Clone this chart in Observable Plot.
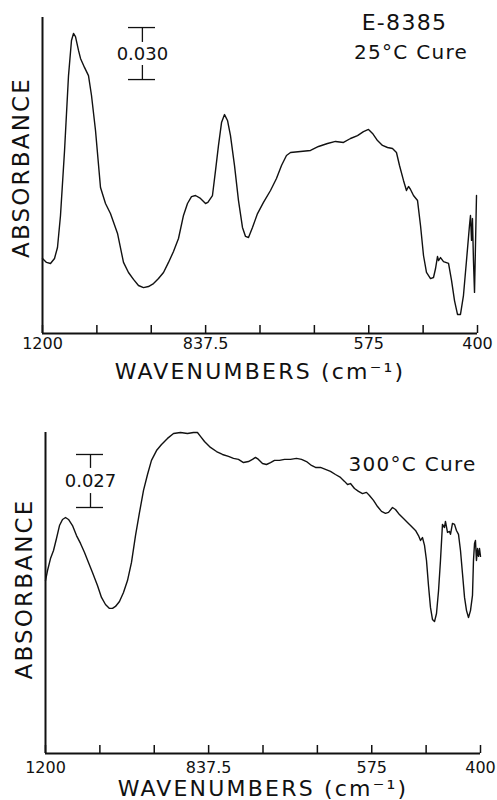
<!DOCTYPE html>
<html>
<head>
<meta charset="utf-8">
<script src="https://cdn.jsdelivr.net/npm/d3@7"></script>
<script src="https://cdn.jsdelivr.net/npm/@observablehq/plot@0.6"></script>
<style>
  body { margin: 0; background: #fff; }
  svg { display: block; }
</style>
</head>
<body>
<div id="chart"></div>
<script>
// Wavenumber divisions of the chart paper (piecewise-linear scale), and labelled ticks
const xTicks = [1200, 1079.17, 958.33, 837.5, 750, 662.5, 575, 487.5, 400];
const xTickLabels = [1200, 837.5, 575, 400];

// Panel 1: E-8385, 25°C cure
const wn25 = [1200,1191.1,1182.2,1173.3,1166.7,1160,1151,1142.2,1135.6,1131.1,
  1126.7,1120,1115.5,1106.7,1097.8,1091.1,1082.2,1071.1,1060,1049,
  1033.3,1020,1008.9,997.8,986.7,975.6,964.5,953.3,942.2,931.1,
  920,908.9,897.8,886.7,877.8,868.9,860,848.9,837.7,833.9,
  826.5,821.6,816.8,811.9,807.1,802.3,797.5,791.0,784.6,778.2,
  773.3,768.5,762.1,754.0,744.4,733.1,723.5,715.4,707.4,700.9,
  684.8,668.7,655.8,641.4,628.5,615.6,604.4,593.1,583.5,575.4,
  568.9,560.9,552.9,544.8,536.8,530.4,525.5,519.1,514.3,511.0,
  507.8,503.0,496.5,491.7,486.9,482.1,475.6,470.8,467.5,464.4,
  462.7,459.5,454.7,446.6,441.8,437.0,432.2,427.4,422.6,417.7,
  412.9,411.3,409.6,408.1,406.5,404.8,401.6];
const abs25 = [.0433,.0410,.0404,.0433,.0496,.0681,.1056,.1488,.1690,.1731,
  .1713,.1633,.1587,.1535,.1488,.1373,.1171,.0842,.0750,.0692,
  .0577,.0410,.0352,.0312,.0277,.0265,.0271,.0288,.0317,.0352,
  .0410,.0473,.0548,.0681,.0750,.0790,.0796,.0779,.0750,.0756,
  .0796,.0940,.1085,.1217,.1263,.1229,.1142,.0969,.0767,.0612,
  .0560,.0554,.0612,.0692,.0756,.0825,.0894,.0969,.1027,.1044,
  .1050,.1056,.1079,.1096,.1108,.1102,.1125,.1142,.1165,.1177,
  .1154,.1113,.1085,.1073,.1067,.1044,.0969,.0883,.0825,.0848,
  .0831,.0796,.0767,.0623,.0450,.0352,.0317,.0323,.0375,.0444,
  .0421,.0438,.0415,.0404,.0306,.0190,.0110,.0110,.0219,.0421,
  .0623,.0681,.0537,.0663,.0421,.0237,.0796];

// Panel 2: 300°C cure
const wn300 = [1200,1195.5,1188.9,1182.2,1175.6,1168.9,1162.2,1155.5,1148.9,1140.0,
  1131.1,1122.2,1113.3,1104.5,1095.6,1084.5,1075.6,1066.7,1057.8,1051.1,
  1044.5,1035.6,1026.7,1017.8,1008.9,1000,991.1,982.2,973.3,964.5,
  953.3,942.2,928.9,915.5,900,884.5,871.1,862.3,855.6,846.7,
  834.5,824.8,815.2,805.5,797.5,789.5,781.4,773.4,766.9,762.1,
  757.3,750.8,744.4,737.9,731.5,723.5,715.4,705.8,696.1,688.0,
  680.0,672.0,665.5,657.5,649.5,641.4,633.4,625.3,618.8,614.0,
  609.2,602.8,596.3,589.9,583.5,578.7,572.2,565.7,559.3,552.9,
  548.0,541.6,536.8,530.4,523.9,517.5,511.0,504.6,499.8,496.5,
  493.4,490.1,486.9,483.7,480.5,477.3,474.0,470.8,467.5,464.4,
  461.2,458.0,456.4,453.1,449.9,448.3,445.1,441.8,438.7,435.4,
  432.2,429.0,425.7,422.5,419.3,416.1,412.9,411.3,409.6,408.1,
  406.5,404.8,403.2,401.6,400];
const abs300 = [.0881,.0932,.0993,.1034,.1095,.1161,.1192,.1202,.1192,.1161,
  .1110,.1070,.1024,.0973,.0922,.0856,.0795,.0759,.0739,.0739,
  .0749,.0774,.0820,.0881,.0973,.1110,.1228,.1340,.1421,.1493,
  .1543,.1574,.1605,.1630,.1635,.1630,.1635,.1635,.1615,.1589,
  .1559,.1538,.1523,.1513,.1503,.1498,.1482,.1487,.1498,.1508,
  .1498,.1477,.1472,.1482,.1493,.1493,.1498,.1498,.1503,.1498,
  .1487,.1467,.1457,.1457,.1447,.1437,.1421,.1406,.1386,.1370,
  .1375,.1350,.1335,.1324,.1330,.1314,.1289,.1258,.1233,.1223,
  .1228,.1253,.1243,.1217,.1197,.1177,.1156,.1136,.1110,.1085,
  .1100,.1060,.0983,.0856,.0744,.0683,.0672,.0713,.0830,.0983,
  .1167,.1151,.1182,.1126,.1131,.1116,.1172,.1167,.1136,.1116,
  .1034,.0917,.0795,.0728,.0693,.0728,.0805,.0983,.1070,.1085,
  .0983,.1044,.1004,.1044,.1004];

// Absorbance scale bars
const bar25 = {x: 978, x1: 1008.9, x2: 948.9, top: 0.1765, bottom: 0.1465, gapTop: 0.1679, gapBottom: 0.1546, textY: 0.1613, label: "0.030"};
const bar300 = {x: 1100, x1: 1131.1, x2: 1071.1, top: 0.1523, bottom: 0.1253, gapTop: 0.1452, gapBottom: 0.1324, textY: 0.1386, label: "0.027"};

// Annotations
const notes25 = [
  {x: 517.5, y: 0.1794, text: "E-8385", size: 22},
  {x: 507, y: 0.1621, text: "25°C Cure", size: 20}
];
const notes300 = [
  {x: 509.4, y: 0.1472, text: "300°C Cure", size: 20}
];

const xTitle = "WAVENUMBERS (cm⁻¹)";
const yTitle = "ABSORBANCE";

function panel({wn, abs, yMax, height, marginTop, marginBottom, marginLeft, marginRight, bar, notes, tickPad, titleDy, yTitleDy}) {
  const data = wn.map((w, i) => ({wn: w, a: abs[i]}));
  const svg = Plot.plot({
    width: 497,
    height, marginTop, marginBottom, marginLeft, marginRight,
    style: {fontFamily: "DejaVu Sans", color: "#111", background: "white", overflow: "visible"},
    x: {type: "linear", domain: xTicks},
    y: {domain: [0, yMax], axis: null},
    marks: [
      Plot.ruleX([xTicks[0]], {strokeWidth: 2, stroke: "#111"}),
      Plot.ruleY([0], {strokeWidth: 2, stroke: "#111"}),
      Plot.axisX({ticks: xTicks, tickSize: 8, dy: -8, tickFormat: () => "", label: null, strokeWidth: 1.5}),
      Plot.axisX({ticks: xTickLabels, tickSize: 0, tickPadding: tickPad, tickFormat: d => String(d), fontSize: 16, label: null, fill: "#111"}),
      Plot.line(data, {x: "wn", y: "a", strokeWidth: 1.4, stroke: "#111"}),
      // scale bar
      Plot.ruleY([bar.top, bar.bottom], {x1: bar.x1, x2: bar.x2, strokeWidth: 1.3, stroke: "#111"}),
      Plot.ruleX([bar], {x: "x", y1: "top", y2: "gapTop", strokeWidth: 1.3, stroke: "#111"}),
      Plot.ruleX([bar], {x: "x", y1: "gapBottom", y2: "bottom", strokeWidth: 1.3, stroke: "#111"}),
      Plot.text([bar], {x: "x", y: "textY", text: "label", fontSize: 18, fill: "#111"}),
      // annotations
      Plot.text(notes, {x: "x", y: "y", text: "text", fontSize: "size", fill: "#111"}),
      // axis titles
      Plot.text([xTitle], {frameAnchor: "bottom", textAnchor: "middle", lineAnchor: "middle", dy: titleDy, fontSize: 22, fill: "#111"}),
      Plot.text([yTitle], {frameAnchor: "left", textAnchor: "middle", lineAnchor: "middle", rotate: -90, dx: -21, dy: yTitleDy, fontSize: 23, fill: "#111"})
    ]
  });
  // letter spacing to match the wide lettering of the original
  d3.select(svg).selectAll("text").each(function() {
    const t = this.textContent;
    if (t === xTitle || t === yTitle) this.style.letterSpacing = "2.2px";
    else if (notes.some(n => n.text === t)) this.style.letterSpacing = "1.3px";
  });
  return svg;
}

const root = document.getElementById("chart");
root.append(panel({
  wn: wn25, abs: abs25, yMax: 0.1823, height: 390,
  marginTop: 17, marginBottom: 57, marginLeft: 42, marginRight: 20,
  bar: bar25, notes: notes25, tickPad: 4, titleDy: 38, yTitleDy: -8
}));
root.append(panel({
  wn: wn300, abs: abs300, yMax: 0.1635, height: 410,
  marginTop: 42, marginBottom: 47, marginLeft: 45, marginRight: 17,
  bar: bar300, notes: notes300, tickPad: 8, titleDy: 35, yTitleDy: -4
}));
</script>
</body>
</html>
